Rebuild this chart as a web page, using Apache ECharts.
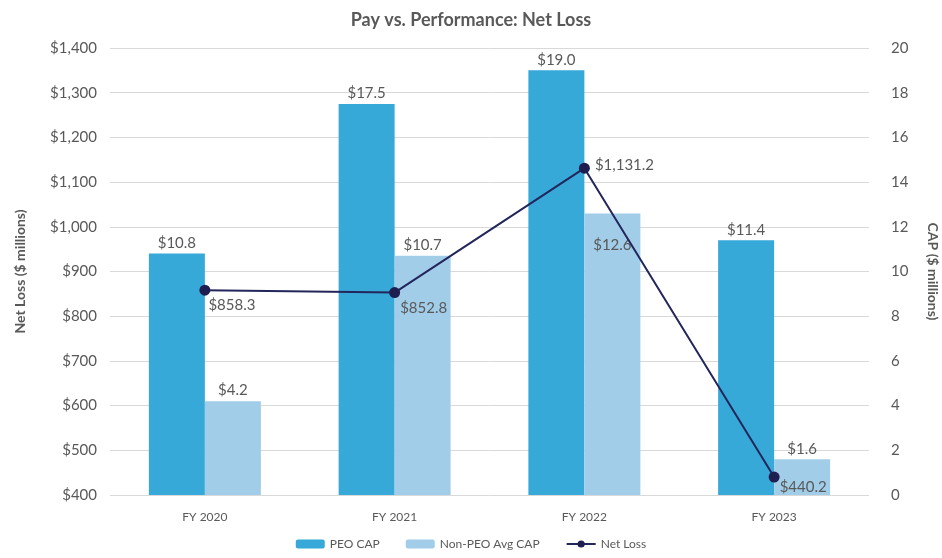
<!DOCTYPE html>
<html><head><meta charset="utf-8">
<script src="https://cdn.jsdelivr.net/npm/echarts@6/dist/echarts.min.js"></script>
<style>html,body{margin:0;padding:0;background:#fff}#c{width:942px;height:558px}</style>
</head><body><div id="c"></div>
<script>
const categories = ['FY 2020', 'FY 2021', 'FY 2022', 'FY 2023'];
const peoCap = [10.8, 17.5, 19.0, 11.4];
const nonPeoCap = [4.2, 10.7, 12.6, 1.6];
const netLoss = [858.3, 852.8, 1131.2, 440.2];
const lineLabelOffsets = [[-7, 15], [-5, 16], [0, -3], [-5, 10]];

const FONT = 'Lato';
const TXT = '#595959';
const chart = echarts.init(document.getElementById('c'));
chart.setOption({
  animation: false,
  textStyle: { fontFamily: FONT },
  title: {
    text: 'Pay vs. Performance: Net Loss', left: 'center', top: 6,
    textStyle: { fontFamily: FONT, fontSize: 18, fontWeight: 'bold', color: TXT }
  },
  legend: {
    bottom: 3, left: 'center', itemGap: 26, itemWidth: 29, itemHeight: 9,
    textStyle: { fontFamily: FONT, fontSize: 12, color: TXT },
    data: ['PEO CAP', 'Non-PEO Avg CAP', 'Net Loss']
  },
  grid: { left: 110, right: 73, top: 48, bottom: 63, containLabel: false, outerBoundsMode: 'none' },
  xAxis: {
    type: 'category', data: categories,
    axisLine: { show: false }, axisTick: { show: false },
    axisLabel: { color: TXT, fontSize: 12, margin: 16, fontFamily: FONT }
  },
  yAxis: [
    {
      type: 'value', min: 400, max: 1400, interval: 100,
      name: 'Net Loss ($ millions)', nameLocation: 'middle', nameGap: 83,
      nameTextStyle: { color: TXT, fontSize: 14, fontWeight: 'bold', fontFamily: FONT },
      axisLabel: { color: TXT, fontSize: 15, margin: 13, fontFamily: FONT,
        formatter: v => '$' + v.toLocaleString('en-US') },
      splitLine: { lineStyle: { color: '#D9D9D9', width: 1 } },
      axisLine: { show: false }, axisTick: { show: false }
    },
    {
      type: 'value', min: 0, max: 20, interval: 2,
      name: 'CAP ($ millions)', nameLocation: 'middle', nameGap: 57, nameRotate: -90,
      nameTextStyle: { color: TXT, fontSize: 14, fontWeight: 'bold', fontFamily: FONT },
      axisLabel: { color: TXT, fontSize: 15, margin: 22, fontFamily: FONT },
      splitLine: { show: false },
      axisLine: { show: false }, axisTick: { show: false }
    }
  ],
  series: [
    {
      name: 'PEO CAP', type: 'bar', yAxisIndex: 1, data: peoCap,
      barWidth: 56, barGap: '0%',
      itemStyle: { color: '#36A9D9' },
      label: { show: true, position: 'top', distance: 3, color: TXT, fontSize: 15, fontFamily: FONT,
        formatter: p => '$' + p.value.toFixed(1) }
    },
    {
      name: 'Non-PEO Avg CAP', type: 'bar', yAxisIndex: 1,
      data: nonPeoCap.map((v, i) => i === 2
        ? { value: v, label: { position: 'insideTop', distance: 24 } }
        : v),
      barWidth: 56,
      itemStyle: { color: '#A2CDE9' },
      label: { show: true, position: 'top', distance: 3, color: TXT, fontSize: 15, fontFamily: FONT,
        formatter: p => '$' + p.value.toFixed(1) }
    },
    {
      name: 'Net Loss', type: 'line', yAxisIndex: 0,
      data: netLoss.map((v, i) => ({ value: v, label: { offset: lineLabelOffsets[i] } })),
      symbol: 'circle', symbolSize: 11,
      lineStyle: { color: '#23265A', width: 2 },
      itemStyle: { color: '#1E1F50' },
      label: { show: true, position: 'right', distance: 5, color: TXT, fontSize: 15, fontFamily: FONT,
        formatter: p => '$' + p.value.toLocaleString('en-US', { minimumFractionDigits: 1, maximumFractionDigits: 1 }) },
      z: 5
    }
  ]
});
</script></body></html>
